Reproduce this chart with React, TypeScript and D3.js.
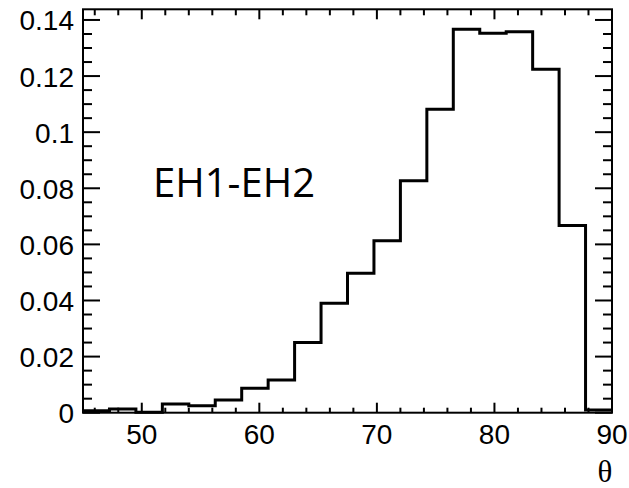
import React from 'react';
import * as d3 from 'd3';

// histogram of theta, 20 bins of 2.25 deg from 45 to 90
const binEdges = [45, 47.25, 49.5, 51.75, 54, 56.25, 58.5, 60.75, 63, 65.25, 67.5,
  69.75, 72, 74.25, 76.5, 78.75, 81, 83.25, 85.5, 87.75, 90];
const binValues = [0.0007, 0.0013, 0.0002, 0.0031, 0.0025, 0.0045, 0.0087, 0.0117, 0.025, 0.039,
  0.0497, 0.0613, 0.0827, 0.1082, 0.1367, 0.1353, 0.1358, 0.1224, 0.0667, 0.001];

const xMajor = [50, 60, 70, 80, 90];
const xMinor = [46, 48, 52, 54, 56, 58, 62, 64, 66, 68, 72, 74, 76, 78, 82, 84, 86, 88];
const yMajor = [0, 0.02, 0.04, 0.06, 0.08, 0.1, 0.12, 0.14];
const yMinor = [0.005, 0.01, 0.015, 0.025, 0.03, 0.035, 0.045, 0.05, 0.055, 0.065, 0.07, 0.075,
  0.085, 0.09, 0.095, 0.105, 0.11, 0.115, 0.125, 0.13, 0.135];

const label = 'EH1-EH2';
const xTitle = 'θ';

const W = 629;
const H = 488;
const left = 83, right = 612, top = 9.3, bottom = 412.7;

export default function App() {
  const x = d3.scaleLinear().domain([45, 90]).range([left, right]);
  const y = d3.scaleLinear().domain([0, 0.1438]).range([bottom, top]);

  // step path for the histogram
  const pts: [number, number][] = [];
  binValues.forEach((v, i) => {
    pts.push([binEdges[i], v]);
    pts.push([binEdges[i + 1], v]);
  });
  const line = d3.line<[number, number]>().x(d => x(d[0])).y(d => y(d[1]));

  const fmt = (v: number) => (v === 0 ? '0' : String(+v.toFixed(2)));
  const tickFont = '"Liberation Sans", Arial, sans-serif';

  return (
    <svg width={W} height={H} style={{ position: 'absolute', left: 0, top: 0, background: '#fff' }}>
      <rect x={0} y={0} width={W} height={H} fill="#fff" />

      {/* y ticks, left and right */}
      {yMajor.map(v => (
        <g key={'ym' + v} stroke="#000" strokeWidth={2}>
          <line x1={left} x2={left + 17} y1={y(v)} y2={y(v)} />
          <line x1={right} x2={right - 17} y1={y(v)} y2={y(v)} />
        </g>
      ))}
      {yMinor.map(v => (
        <g key={'yn' + v} stroke="#000" strokeWidth={2}>
          <line x1={left} x2={left + 9} y1={y(v)} y2={y(v)} />
          <line x1={right} x2={right - 9} y1={y(v)} y2={y(v)} />
        </g>
      ))}
      {/* x ticks, bottom and top */}
      {xMajor.map(v => (
        <g key={'xm' + v} stroke="#000" strokeWidth={2}>
          <line x1={x(v)} x2={x(v)} y1={bottom} y2={bottom - 10} />
          <line x1={x(v)} x2={x(v)} y1={top} y2={top + 10} />
        </g>
      ))}
      {xMinor.map(v => (
        <g key={'xn' + v} stroke="#000" strokeWidth={2}>
          <line x1={x(v)} x2={x(v)} y1={bottom} y2={bottom - 5} />
          <line x1={x(v)} x2={x(v)} y1={top} y2={top + 6} />
        </g>
      ))}

      <path d={line(pts) || ''} fill="none" stroke="#000" strokeWidth={3} strokeLinejoin="miter" />

      <rect x={left} y={top} width={right - left} height={bottom - top} fill="none" stroke="#000" strokeWidth={2} />

      {yMajor.map(v => (
        <text key={'yl' + v} x={74} y={y(v) + 10.5} textAnchor="end" fontFamily={tickFont} fontSize={28} fill="#000">
          {fmt(v)}
        </text>
      ))}
      {xMajor.map(v => (
        <text key={'xl' + v} x={x(v)} y={444} textAnchor="middle" fontFamily={tickFont} fontSize={28} fill="#000">
          {v}
        </text>
      ))}

      <text x={605} y={482} textAnchor="middle" fontFamily='"Liberation Serif", "Times New Roman", serif' fontSize={31} fill="#000">
        {xTitle}
      </text>

      <text x={153} y={197} fontFamily='"Open Sans", sans-serif' fontSize={40} textLength={162} lengthAdjust="spacingAndGlyphs" fill="#000">
        {label}
      </text>
    </svg>
  );
}
